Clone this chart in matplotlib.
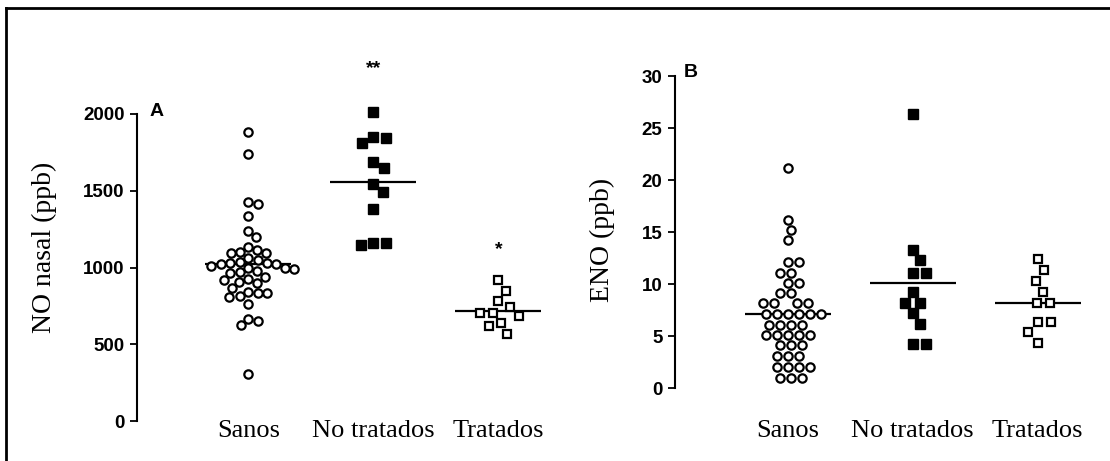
import numpy as np
import matplotlib
matplotlib.use('Agg')
import matplotlib.pyplot as plt
from matplotlib.lines import Line2D

# --- values ---
groups = ['Sanos', 'No tratados', 'Tratados']

nasal_sanos = [1885, 1739, 1429, 1414, 1337, 1238, 1201, 1133, 1114, 1100, 1094, 1094,
               1060, 1049, 1036, 1029, 1029, 1023, 1023, 1010, 997, 997, 990, 977, 971,
               964, 940, 925, 918, 906, 899, 866, 840, 834, 834, 814, 808, 762, 664, 651,
               625, 306]
nasal_no_trat = [2015, 1850, 1843, 1813, 1689, 1648, 1544, 1492, 1381, 1162, 1160, 1147]
nasal_trat = [918, 849, 782, 745, 705, 703, 684, 641, 619, 565]
nasal_lines = [1023, 1557, 717]

eno_sanos = [21.2, 16.2, 15.2, 14.2, 12.1, 12.1, 11.1, 11.1, 10.1, 10.1, 9.1, 9.1,
             8.2, 8.2, 8.2, 8.2, 7.1, 7.1, 7.1, 7.1, 7.1, 7.1, 6.1, 6.1, 6.1, 6.1,
             5.1, 5.1, 5.1, 5.1, 5.1, 4.1, 4.1, 4.1, 3.1, 3.1, 3.1, 2.0, 2.0, 2.0, 2.0,
             1.0, 1.0, 1.0]
eno_no_trat = [26.3, 13.3, 12.3, 11.1, 11.1, 9.2, 8.2, 8.2, 7.2, 6.2, 4.2, 4.2]
eno_trat = [12.4, 11.3, 10.3, 9.25, 8.15, 8.15, 6.3, 6.3, 5.4, 4.35]
eno_lines = [7.1, 10.1, 8.15]

nasal_marks = [(2, 2293, '**'), (3, 1114, '*')]

W, H = 1110, 461
fig = plt.figure(figsize=(W / 100, H / 100), dpi=100)

serif = 'Liberation Serif'
sans = 'Liberation Sans'


def swarm(values, d, ppu):
    # simple beeswarm: offsets in pixels, d = min distance between centres
    vals = np.asarray(values, dtype=float)
    order = np.argsort(-vals, kind='stable')
    placed = []
    offs = np.zeros(len(vals))
    for i in order:
        y = vals[i] * ppu
        cands = [0.0]
        for xj, yj in placed:
            dy = y - yj
            if abs(dy) < d:
                dx = np.sqrt(d * d - dy * dy)
                cands += [xj + dx, xj - dx]
        cands.sort(key=abs)
        for c in cands:
            if all((c - xj) ** 2 + (y - yj) ** 2 >= d * d - 1e-6 for xj, yj in placed):
                break
        placed.append((c, y))
        offs[i] = c
    return offs


def panel(rect, xlim, ylim, ticks, data, lines, ylabel, lab_xy, gaps, xpad):
    ax = fig.add_axes(rect)
    ax.set_xlim(*xlim)
    ax.set_ylim(*ylim)
    ppx = rect[2] * W / (xlim[1] - xlim[0])
    ppy = rect[3] * H / (ylim[1] - ylim[0])
    styles = [dict(marker='o', ms=6, mfc='white', mec='black', mew=1.6),
              dict(marker='s', ms=7, mfc='black', mec='black', mew=1.0),
              dict(marker='s', ms=6, mfc='white', mec='black', mew=1.6)]
    for k, vals in enumerate(data):
        xo = swarm(vals, gaps[k], ppy) / ppx
        ax.plot(k + 1 + xo, vals, ls='none', clip_on=False, zorder=3, **styles[k])
        ax.hlines(lines[k], k + 1 - 0.344, k + 1 + 0.344, color='black', lw=1.6, zorder=2)
    for s in ['top', 'right', 'bottom']:
        ax.spines[s].set_visible(False)
    ax.spines['left'].set_linewidth(1.5)
    ax.set_yticks(ticks)
    ax.tick_params(axis='y', direction='out', length=5, width=1.3, pad=4, labelsize=13.5)
    for t in ax.get_yticklabels():
        t.set_fontfamily(sans)
        t.set_fontweight('bold')
    ax.set_xticks([1, 2, 3])
    ax.set_xticklabels(groups, fontfamily=serif, fontsize=19)
    ax.tick_params(axis='x', length=0, pad=xpad)
    ax.set_ylabel(ylabel, fontfamily=serif, fontsize=20)
    ax.yaxis.set_label_coords(*lab_xy)
    return ax


axA = panel([137 / W, 40 / H, 424 / W, 307 / H], (0.11, 3.5), (0, 2000),
            [0, 500, 1000, 1500, 2000], [nasal_sanos, nasal_no_trat, nasal_trat],
            nasal_lines, 'NO nasal (ppb)', (-0.189, 0.567), [9.5, 12.5, 13], -1)
for x, y, s in nasal_marks:
    axA.text(x, y, s, ha='center', va='center', fontsize=14, fontweight='bold',
             fontfamily=sans)

axB = panel([675 / W, 73 / H, 425 / W, 312 / H], (0.10, 3.5), (0, 30),
            [0, 5, 10, 15, 20, 25, 30], [eno_sanos, eno_no_trat, eno_trat],
            eno_lines, 'ENO (ppb)', (-0.141, 0.474), [11, 13, 13], 23)

fig.text(150 / W, 1 - 116 / H, 'A', fontsize=14, fontweight='bold', fontfamily=sans,
         va='baseline')
fig.text(684 / W, 1 - 77 / H, 'B', fontsize=14, fontweight='bold', fontfamily=sans,
         va='baseline')

# frame of the scanned figure (right and bottom edges are cut off)
fig.add_artist(Line2D([6 / W, 6 / W], [0, 1 - 8 / H], color='black', lw=2))
fig.add_artist(Line2D([6 / W, 1], [1 - 8 / H, 1 - 8 / H], color='black', lw=2))

fig.savefig('out.png', dpi=100)
